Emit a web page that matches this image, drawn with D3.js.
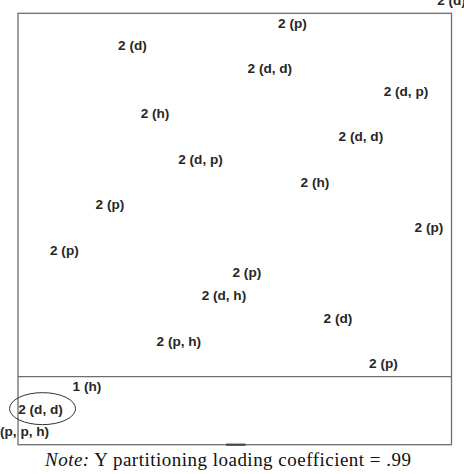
<!DOCTYPE html>
<html>
<head>
<meta charset="utf-8">
<script src="https://cdn.jsdelivr.net/npm/d3@7"></script>
<style>
  body { margin: 0; background: #fff; }
</style>
</head>
<body>
<div id="chart"></div>
<script>
// Labels, in rank order from top to bottom
const labels = ["2 (d)", "2 (p)", "2 (d)", "2 (d, d)", "2 (d, p)", "2 (h)", "2 (d, d)", "2 (d, p)",
    "2 (h)", "2 (p)", "2 (p)", "2 (p)", "2 (p)", "2 (d, h)", "2 (d)", "2 (p, h)", "2 (p)",
    "1 (h)", "2 (d, d)", "2 (p, p, h)"];
// Horizontal position of each label (0 = left edge, 100 = right edge of frame)
const xValues = [100, 63.3, 26.4, 58.1, 89.5, 31.6, 79.1, 42.1, 68.5, 21.2, 94.8, 10.7,
    52.8, 47.5, 73.8, 37.1, 84.3, 15.9, 5.2, 0.2];
// Rank where the frame is split, and the circled label
const splitRank = 16.5;
const circledRank = 18;
const note = "Y partitioning loading coefficient = .99";

const width = 464, height = 474;

const svg = d3.select("#chart")
    .append("svg")
    .attr("width", width)
    .attr("height", height);

const xScale = d3.scaleLinear().domain([0, 100]).range([18, 451.5]);
const yScale = d3.scaleLinear().domain([0.5, labels.length - 0.5]).range([13.3, 444.7]);

const data = labels.map((d, i) => ({label: d, x: xValues[i], rank: i}));

// Frame
svg.append("rect")
    .attr("x", xScale(0))
    .attr("y", yScale(0.5))
    .attr("width", xScale(100) - xScale(0))
    .attr("height", yScale(labels.length - 0.5) - yScale(0.5))
    .attr("fill", "none")
    .attr("stroke", "#6e6e6e")
    .attr("stroke-width", 1.3);

// Split line
svg.append("line")
    .attr("x1", xScale(0))
    .attr("x2", xScale(100))
    .attr("y1", yScale(splitRank))
    .attr("y2", yScale(splitRank))
    .attr("stroke", "#6e6e6e")
    .attr("stroke-width", 1.3);

// small dark mark on the bottom edge
svg.append("line")
    .attr("x1", xScale(48))
    .attr("x2", xScale(52.5))
    .attr("y1", yScale(labels.length - 0.5))
    .attr("y2", yScale(labels.length - 0.5))
    .attr("stroke", "#444")
    .attr("stroke-width", 2.2);

// Labels
svg.selectAll(".lab")
    .data(data)
    .join("text")
    .attr("class", "lab")
    .attr("x", d => xScale(d.x))
    .attr("y", d => yScale(d.rank))
    .attr("dy", "0.22em")
    .attr("text-anchor", "middle")
    .attr("font-family", "'Liberation Sans', Arial, sans-serif")
    .attr("font-weight", "bold")
    .attr("font-size", 13.6)
    .attr("fill", "#262626")
    .text(d => d.label);

// Ellipse around the circled label
const c = data[circledRank];
svg.append("ellipse")
    .attr("cx", xScale(c.x) + 2)
    .attr("cy", yScale(c.rank) - 2)
    .attr("rx", 33)
    .attr("ry", 16)
    .attr("fill", "none")
    .attr("stroke", "#333")
    .attr("stroke-width", 1);

// Note
const noteText = svg.append("text")
    .attr("x", 228)
    .attr("y", 466)
    .attr("text-anchor", "middle")
    .attr("font-family", "'Liberation Serif', 'Times New Roman', serif")
    .attr("font-size", 19)
    .attr("textLength", 366)
    .attr("lengthAdjust", "spacing")
    .attr("fill", "#111");
noteText.append("tspan").attr("font-style", "italic").text("Note:");
noteText.append("tspan").text(" " + note);
</script>
</body>
</html>
